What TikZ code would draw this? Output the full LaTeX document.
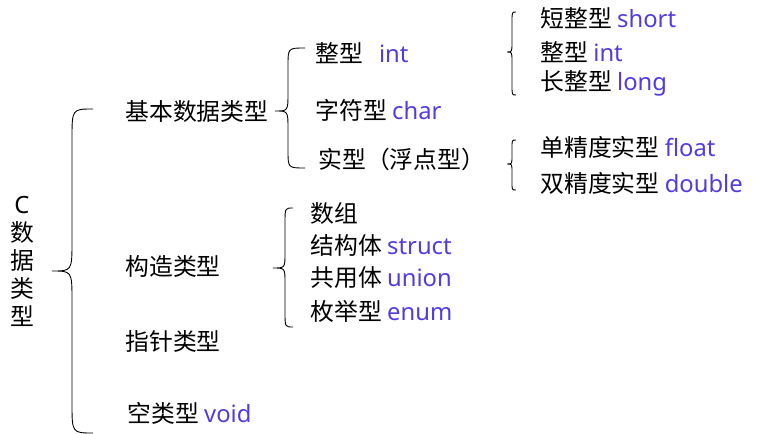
\documentclass[tikz,border=0pt]{standalone}
\usepackage{fontspec}
\setmainfont{Noto Sans CJK SC}
\newfontfamily\latinfont{Noto Sans}
\usepackage{xcolor}
\usepackage{tikz}
\definecolor{kwblue}{RGB}{80,60,225}
\newcommand{\kw}[1]{{\latinfont\textcolor{kwblue}{#1}}}
% brace: tip x, tip y, stem x, end x, top y, bottom y, bend
\newcommand{\drawbrace}[7]{%
  \draw (#4,#5) .. controls (#3,#5) .. (#3,#5+#7) -- (#3,#2-#7)
    .. controls (#3,#2) .. (#1,#2) .. controls (#3,#2) .. (#3,#2+#7)
    -- (#3,#6-#7) .. controls (#3,#6) .. (#4,#6);}

\begin{document}
\begin{tikzpicture}[x=1pt, y=-1pt, line width=0.9pt,
    item/.style={anchor=west, inner sep=0pt, font=\fontsize{23.8}{28}\selectfont}]
    \useasboundingbox (0,0) rectangle (764,434);

    % Root
    \node[inner sep=0pt, align=center, font=\fontsize{23.8}{28}\selectfont] (root) at (22,261) {{\latinfont C}\\数\\据\\类\\型};
    \drawbrace{52}{271}{72}{93}{109}{433}{30}

    % First level
    \node[item] (basic) at (125,111) {基本数据类型};
    \node[item] (struct) at (125,266) {构造类型};
    \node[item] (ptr) at (125,341) {指针类型};
    \node[item] (void) at (127,413) {空类型 \kw{void}};

    % Basic types
    \drawbrace{275}{111}{288}{305}{48}{168}{18}
    \node[item] (int) at (315,53) {整型\hspace{16pt}\kw{int}};
    \node[item] (char) at (315,110) {字符型 \kw{char}};
    \node[item] (real) at (318,159) {实型（浮点型）};

    % Integer types
    \drawbrace{507}{52}{512}{516}{12}{95}{10}
    \node[item] (short) at (540,18) {短整型 \kw{short}};
    \node[item] (int2) at (540,52) {整型 \kw{int}};
    \node[item] (long) at (540,83) {长整型 \kw{long}};

    % Real types
    \drawbrace{507}{164}{512}{516}{140}{190}{8}
    \node[item] (float) at (540,147) {单精度实型 \kw{float}};
    \node[item] (double) at (540,183) {双精度实型 \kw{double}};

    % Constructed types
    \drawbrace{273}{268}{285}{293}{208}{327}{15}
    \node[item] (array) at (310,213) {数组};
    \node[item] (structure) at (310,245) {结构体 \kw{struct}};
    \node[item] (union) at (310,278) {共用体 \kw{union}};
    \node[item] (enum) at (310,311) {枚举型 \kw{enum}};
\end{tikzpicture}
\end{document}
